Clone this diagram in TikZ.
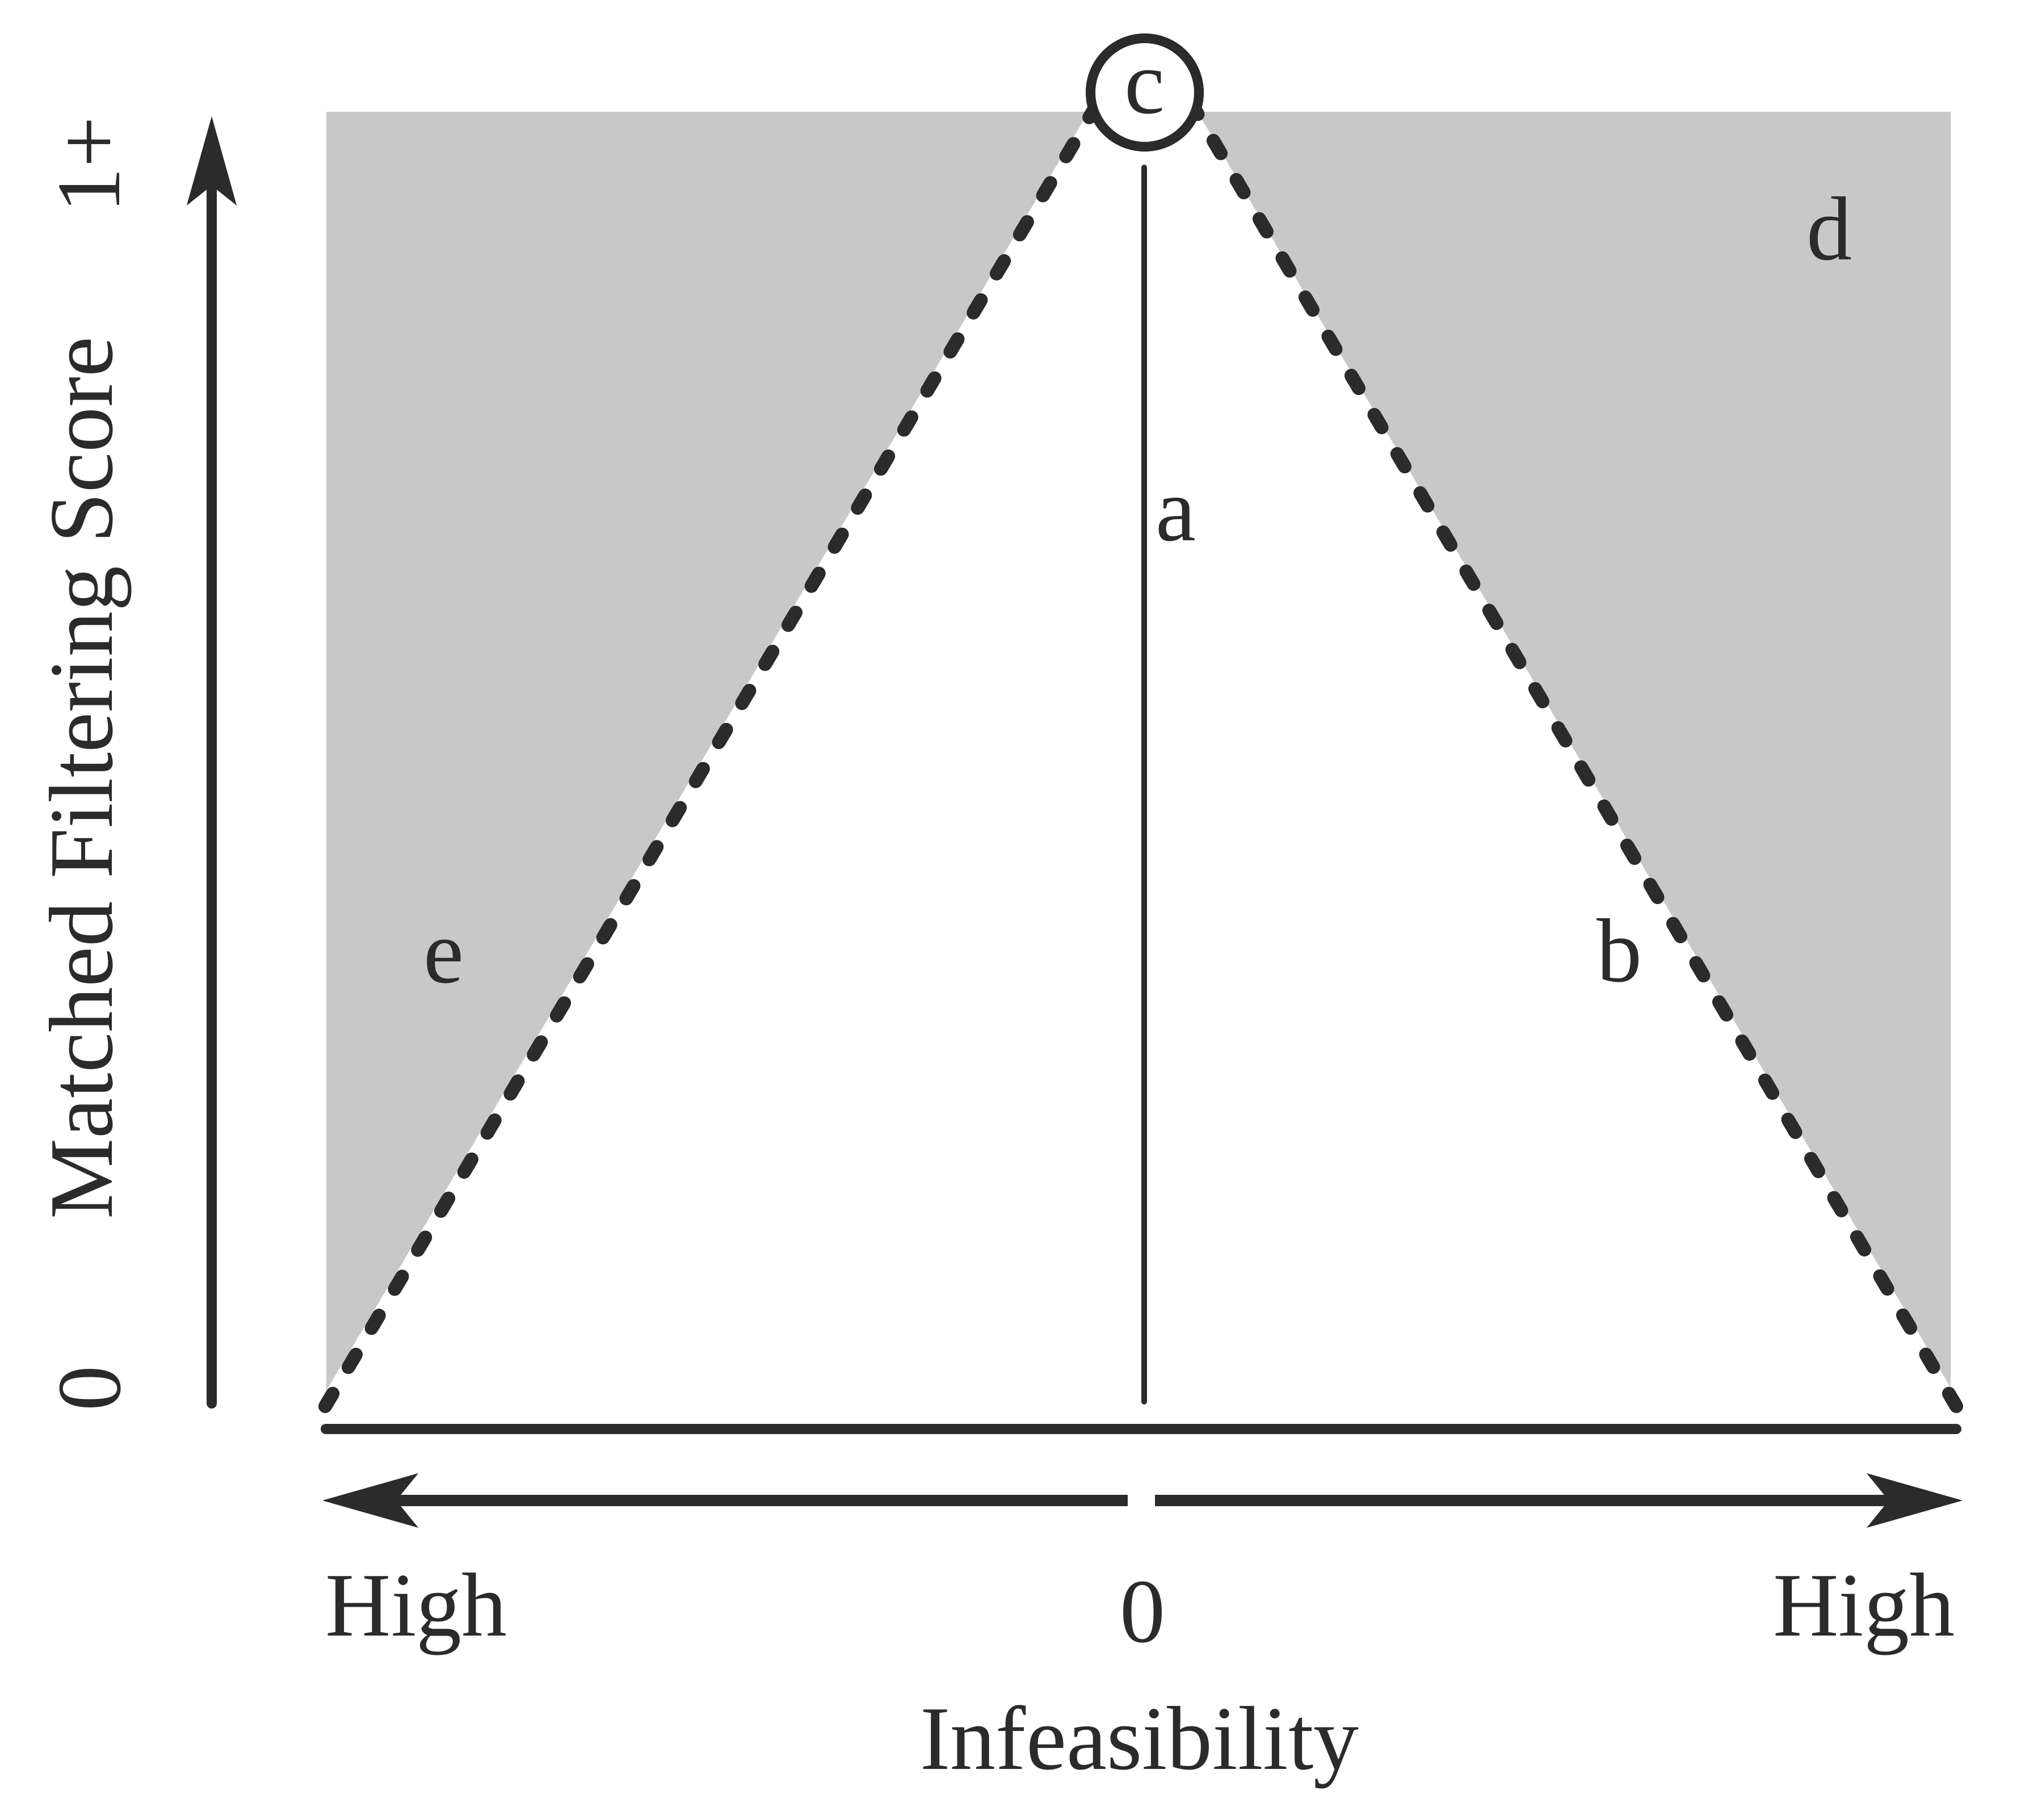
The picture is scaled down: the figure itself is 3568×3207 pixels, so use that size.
\documentclass[tikz,border=0pt]{standalone}
\usepackage{fontspec}
\setmainfont{Liberation Serif}
\usetikzlibrary{arrows.meta}
\definecolor{ink}{HTML}{2B2B2B}
\definecolor{regiongray}{HTML}{C8C8C8}
\begin{document}
\begin{tikzpicture}[x=0.25pt,y=-0.25pt,
  lbl/.style={font=\fontsize{40pt}{48pt}\selectfont, text=ink, inner sep=0pt, anchor=base},
  region/.style={fill=regiongray, draw=none},
  dashline/.style={draw=ink, line width=6pt, line cap=round, dash pattern=on 6.5pt off 13.5pt},
  harrow/.style={draw=ink, line width=5pt, -{Stealth[length=42.25pt,width=24pt,inset=9.75pt,line width=0pt]}},
  varrow/.style={draw=ink, line width=4.5pt, line cap=round, -{Stealth[length=39.25pt,width=22pt,inset=8.75pt,line width=0pt]}},
  baseline/.style={draw=ink, line width=4.5pt, line cap=round},
  midline/.style={draw=ink, line width=2.5pt, line cap=round},
  peak/.style={circle, draw=ink, fill=white, line width=4.25pt, minimum size=47.75pt, inner sep=0pt, font=\fontsize{40pt}{48pt}\selectfont, text=ink}
]
\useasboundingbox (0,0) rectangle (3568,3207);

% shaded regions
\path[region] (575,197) -- (1918,197) -- (575,2450) -- cycle;
\path[region] (2110,197) -- (3437,197) -- (3437,2445) -- cycle;

% coordinates
\coordinate (L0) at (573,2478);
\coordinate (L1) at (1925,197);
\coordinate (R0) at (3447,2478);
\coordinate (R1) at (2108,197);
\coordinate (A0) at (2016,295);
\coordinate (A1) at (2016,2470);
\coordinate (B0) at (574,2518);
\coordinate (B1) at (3447,2518);
\coordinate (HL0) at (1987,2644);
\coordinate (HL1) at (568,2644);
\coordinate (HR0) at (2035,2644);
\coordinate (HR1) at (3458,2644);
\coordinate (V0) at (373,2473);
\coordinate (V1) at (373,205);

% dashed boundary lines
\draw[dashline] (L0) -- (L1);
\draw[dashline] (R0) -- (R1);

% vertical line a
\draw[midline] (A0) -- (A1);

% base line
\draw[baseline] (B0) -- (B1);

% axis arrows
\draw[harrow] (HL0) -- (HL1);
\draw[harrow] (HR0) -- (HR1);
\draw[varrow] (V0) -- (V1);

% peak circle
\node[peak] (c) at (2017,163) {c};

% labels
\node[lbl] (la) at (2072,953) {a};
\node[lbl] (lb) at (2853,1730) {b};
\node[lbl] (ld) at (3223,458) {d};
\node[lbl] (le) at (782,1732) {e};

\node[lbl, anchor=base west] (hl) at (573,2882) {High};
\node[lbl, anchor=base east] (hr) at (3445,2882) {High};
\node[lbl] (x0) at (2013,2893) {0};
\node[lbl] (xl) at (2008,3117) {Infeasibility};

\node[lbl, rotate=90] (yl) at (197,1371) {Matched Filtering Score};
\node[lbl, rotate=90] (y0) at (211,2446) {0};
\node[lbl, rotate=90] (y1) at (210,290) {1+};
\end{tikzpicture}
\end{document}
